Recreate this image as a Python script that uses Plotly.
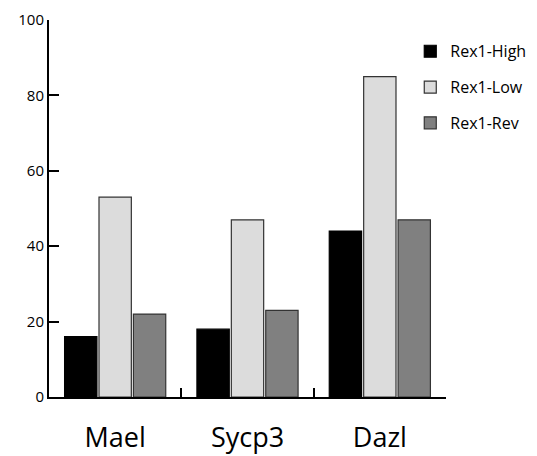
import plotly.graph_objects as go

genes = ["Mael", "Sycp3", "Dazl"]
rex1_high = [16, 18, 44]
rex1_low = [53, 47, 85]
rex1_rev = [22, 23, 47]
y_ticks = [0, 20, 40, 60, 80, 100]

series = [
    ("Rex1-High", rex1_high, "#000000", "#000000"),
    ("Rex1-Low", rex1_low, "#dcdcdc", "#333333"),
    ("Rex1-Rev", rex1_rev, "#808080", "#333333"),
]

fig = go.Figure()
for name, vals, fill, edge in series:
    fig.add_trace(go.Bar(
        x=genes, y=vals, name=name, legendgroup=name,
        marker=dict(color=fill, line=dict(color=edge, width=1.2)),
    ))

fig.update_layout(
    width=537, height=456,
    margin=dict(l=49, r=91, t=20, b=59, autoexpand=False),
    plot_bgcolor="white", paper_bgcolor="white",
    barmode="group", bargap=0.22, bargroupgap=0.06,
    font=dict(family="Open Sans", color="black"),
    legend=dict(
        x=0.91, y=0.962, xanchor="left", yanchor="top",
        font=dict(size=16), traceorder="grouped", tracegroupgap=12,
        bgcolor="rgba(0,0,0,0)", itemwidth=30,
    ),
    showlegend=True,
)
fig.update_xaxes(
    type="category", range=[-0.5, 2.5], automargin=False,
    showline=True, linecolor="black", linewidth=2,
    ticks="inside", tickson="boundaries", ticklen=9, tickwidth=2, tickcolor="black",
    tickfont=dict(size=27), ticklabelstandoff=16,
    showgrid=False, zeroline=False,
)
fig.update_yaxes(
    range=[0, 100], tickvals=y_ticks, automargin=False,
    showline=True, linecolor="black", linewidth=2,
    ticks="inside", ticklen=10, tickwidth=2, tickcolor="black",
    tickfont=dict(size=15), showgrid=False, zeroline=False,
)

fig.write_html("out.html")
